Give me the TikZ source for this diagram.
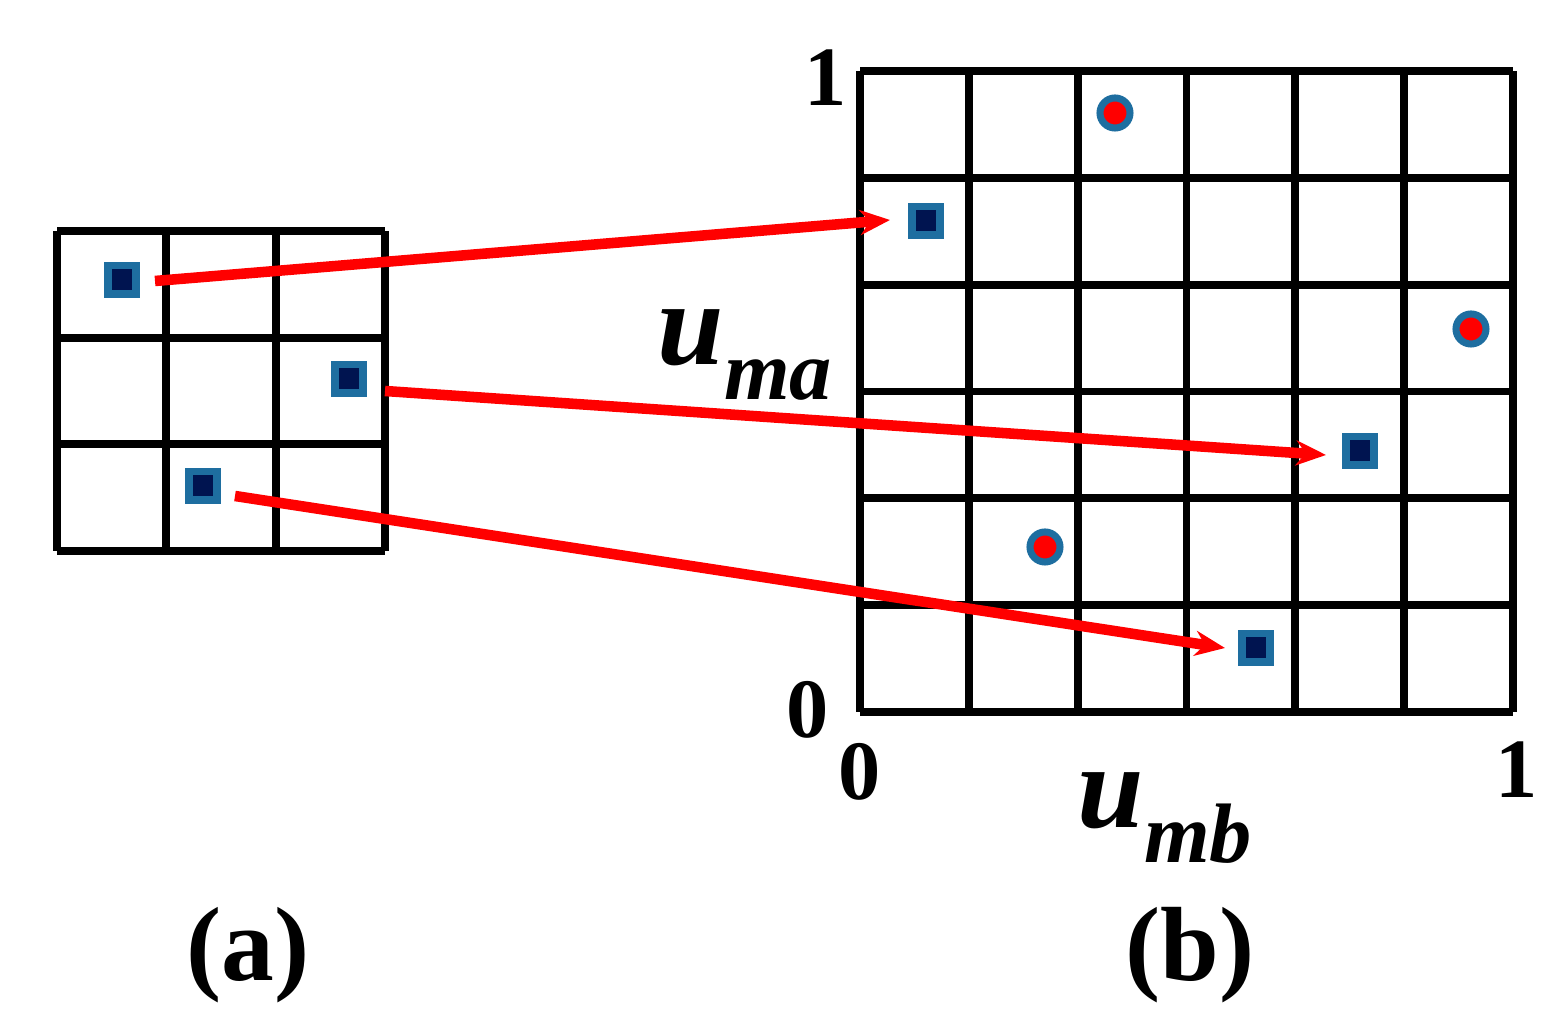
\documentclass[tikz,border=0pt]{standalone}
\usepackage{fontspec}
\setmainfont{Liberation Serif}
\usetikzlibrary{arrows.meta}
\begin{document}
\begin{tikzpicture}[x=0.01cm,y=-0.01cm,
  grid/.style={line width=2.2pt,black},
  sq/.style={draw={rgb,255:red,30;green,110;blue,160},fill={rgb,255:red,0;green,20;blue,80},line width=2pt,minimum size=0.28cm,inner sep=0},
  dot/.style={circle,draw={rgb,255:red,30;green,110;blue,160},fill=red,line width=2pt,minimum size=0.3cm,inner sep=0},
  arr/.style={red,line width=3pt,-{Stealth[length=0.3cm,width=0.25cm]}},
  lbl/.style={font=\fontsize{24}{28}\selectfont\bfseries}]
\useasboundingbox (0,0) rectangle (1565,1034);
% left grid
\foreach \i in {0,1,2,3}{
  \draw[grid] (57+109.33*\i,231) -- (57+109.33*\i,551);
  \draw[grid] (57,231+106.67*\i) -- (385,231+106.67*\i);}
% right grid
\foreach \i in {0,...,6}{
  \draw[grid] (860+108.83*\i,71) -- (860+108.83*\i,712);
  \draw[grid] (860,71+106.83*\i) -- (1513,71+106.83*\i);}
\node[sq] (a1) at (122,280) {};
\node[sq] (a2) at (349,379) {};
\node[sq] (a3) at (203,486) {};
\node[sq] (b1) at (926,221) {};
\node[sq] (b2) at (1360,451) {};
\node[sq] (b3) at (1256,648) {};
\node[dot] (c1) at (1115,113) {};
\node[dot] (c2) at (1471,329) {};
\node[dot] (c3) at (1045,547) {};
\coordinate (s1) at (155,281); \coordinate (e1) at (890,220);
\coordinate (s2) at (385,391); \coordinate (e2) at (1326,455);
\coordinate (s3) at (235,496); \coordinate (e3) at (1225,648);
\draw[arr] (s1) -- (e1);
\draw[arr] (s2) -- (e2);
\draw[arr] (s3) -- (e3);
\node[lbl] (y1) at (826,78) {1};
\node[lbl] (y0) at (808,710) {0};
\node[lbl] (x0) at (860,772) {0};
\node[lbl] (x1) at (1517,770) {1};
\node (ua) at (745,355) {\fontsize{34}{38}\selectfont\bfseries\itshape u\raisebox{-0.3em}{\fontsize{24}{28}\selectfont ma}};
\node (ub) at (1165,818) {\fontsize{34}{38}\selectfont\bfseries\itshape u\raisebox{-0.3em}{\fontsize{24}{28}\selectfont mb}};
\node[lbl,font=\fontsize{30}{34}\selectfont\bfseries] (la) at (248,955) {(a)};
\node[lbl,font=\fontsize{30}{34}\selectfont\bfseries] (lb) at (1190,955) {(b)};
\end{tikzpicture}
\end{document}
